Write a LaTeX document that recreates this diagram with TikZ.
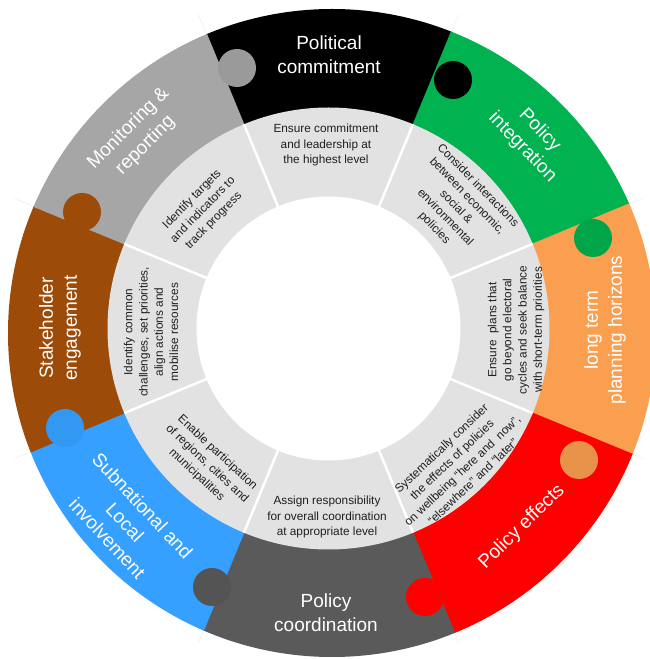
\documentclass[tikz,border=0pt]{standalone}
\usepackage{fontspec}
\setmainfont{Liberation Sans}
\begin{document}
\begin{tikzpicture}[x=1pt,y=1pt,
  outer/.style={text=white, font=\fontsize{19}{24}\selectfont, align=center, inner sep=0pt},
  inner/.style={text=black!88, font=\fontsize{11.8}{15.2}\selectfont, align=center, inner sep=0pt},
  sep/.style={white, line width=2.5pt},
  faint/.style={gray!12, line width=0.7pt}]
\definecolor{cBlack}{RGB}{0,0,0}
\definecolor{cGreen}{RGB}{0,178,80}
\definecolor{cOrange}{RGB}{250,158,80}
\definecolor{cRed}{RGB}{255,0,0}
\definecolor{cDark}{RGB}{90,90,90}
\definecolor{cBlue}{RGB}{53,160,255}
\definecolor{cBrown}{RGB}{156,75,8}
\definecolor{cGrey}{RGB}{166,166,166}
\definecolor{cRing}{RGB}{226,226,226}

\useasboundingbox (0,0) rectangle (650,659);
\coordinate (C) at (328.5,330.5);
\coordinate (O) at (332,326);

% faint lines beyond the ring at the segment boundaries
\foreach \a in {22.5,67.5,...,337.5}
  \draw[faint] ([shift={(\a:300)}]C) -- ([shift={(\a:340)}]C);

% outer coloured segments
\begin{scope}
  \clip (O) circle (324);
  \foreach \col/\a in {cBlack/90, cGreen/45, cOrange/0, cRed/-45, cDark/-90, cBlue/-135, cBrown/180, cGrey/135}
    \fill[\col] (C) -- ([shift={(\a-22.6:420)}]C) arc[start angle=\a-22.6, end angle=\a+22.6, radius=420] -- cycle;
\end{scope}

% tabs
\fill[cGrey!93!black]   (237,591) circle (19);
\fill[cBlack]           (453,579) circle (19);
\fill[cGreen!93!black]  (593,421) circle (19);
\fill[cOrange!93!black] (579,199) circle (19);
\fill[cRed]             (425,62)  circle (19);
\fill[cDark!93!black]   (212,72)  circle (19);
\fill[cBlue!95!black]   (65,231)  circle (19);
\fill[cBrown]           (82,447)  circle (19);

% inner ring
\fill[cRing] (C) circle (221);
\fill[white] (C) circle (132);
\foreach \a in {22.5,67.5,...,337.5}
  \draw[sep] ([shift={(\a:128)}]C) -- ([shift={(\a:221)}]C);

% outer labels
\node[outer] (pc) at (329,604) {Political\\commitment};
\node[outer, rotate=-46] (pi) at (531,520) {Policy\\integration};
\node[outer, rotate=90] (lt) at (605,329) {long term\\planning horizons};
\node[outer, rotate=44.5] (pe) at (522,132) {Policy effects};
\node[outer] (pco) at (326,46) {Policy\\coordination};
\node[outer, rotate=-47] (sl) at (125,137) {Subnational and\\Local\\involvement};
\node[outer, rotate=90] (se) at (60,331) {Stakeholder\\engagement};
\node[outer, rotate=45] (mr) at (137,522) {Monitoring \&\\reporting};

% inner labels
\node[inner] (i1) at (326,514) {Ensure commitment\\and leadership at\\the highest level};
\node[inner, rotate=-45.7] (i2) at (456,452) {Consider interactions\\between economic,\\social \&\\environmental\\policies};
\node[inner, rotate=90] (i3) at (516,329) {Ensure~ plans that\\go beyond electoral\\cycles and seek balance\\with short-term priorities};
\node[inner, rotate=43.5] (i4) at (457,194) {Systematically consider\\the effects of policies\\on wellbeing “here and~ now”,\\“elsewhere” and “later”};
\node[inner] (i5) at (327,142) {Assign responsibility\\for overall coordination\\at appropriate level};
\node[inner, rotate=-43] (i6) at (207,195) {Enable participation\\of regions, cities and\\municipalities};
\node[inner, rotate=90] (i7) at (151,327) {Identify common\\challenges, set priorities,\\align actions and\\mobilise resources};
\node[inner, rotate=45.5] (i8) at (203,449) {Identify targets\\and indicators to\\track progress};
\end{tikzpicture}
\end{document}
